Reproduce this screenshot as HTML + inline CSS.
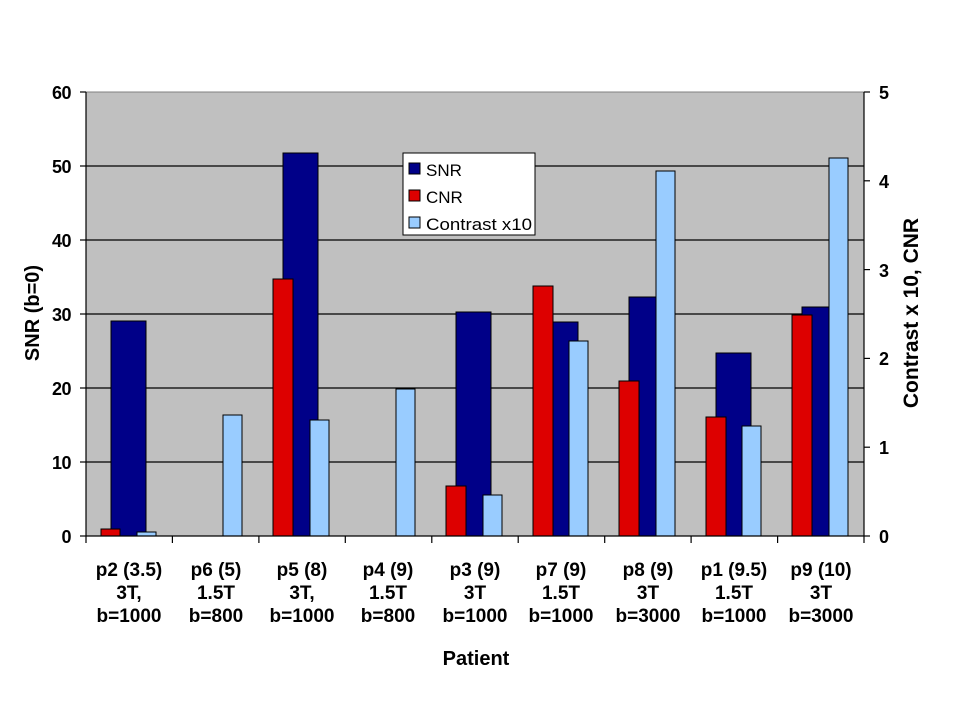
<!DOCTYPE html>
<html><head><meta charset="utf-8"><style>
html,body{margin:0;padding:0;background:#fff;}
svg{display:block;font-family:"Liberation Sans",Arial,sans-serif;font-weight:bold;}
</style></head><body>
<svg width="960" height="720" viewBox="0 0 960 720" xmlns="http://www.w3.org/2000/svg">
<rect x="86" y="92" width="778" height="444" fill="#c0c0c0" stroke="#808080" stroke-width="1"/>
<g stroke="#000" stroke-width="1.2">
<line x1="86" y1="166" x2="864" y2="166"/>
<line x1="86" y1="240" x2="864" y2="240"/>
<line x1="86" y1="314" x2="864" y2="314"/>
<line x1="86" y1="388" x2="864" y2="388"/>
<line x1="86" y1="462" x2="864" y2="462"/>
</g>
<g stroke="#000" stroke-width="1">
<!-- p2 -->
<rect x="111" y="321" width="35" height="215" fill="#000088"/>
<rect x="101" y="529" width="19" height="7" fill="#dd0000"/>
<rect x="137" y="532" width="19" height="4" fill="#99ccff"/>
<!-- p6 -->
<rect x="223" y="415" width="19" height="121" fill="#99ccff"/>
<!-- p5 -->
<rect x="283" y="153" width="35" height="383" fill="#000088"/>
<rect x="273" y="279" width="20" height="257" fill="#dd0000"/>
<rect x="310" y="420" width="19" height="116" fill="#99ccff"/>
<!-- p4 -->
<rect x="396" y="389" width="19" height="147" fill="#99ccff"/>
<!-- p3 -->
<rect x="456" y="312" width="35" height="224" fill="#000088"/>
<rect x="446" y="486" width="20" height="50" fill="#dd0000"/>
<rect x="483" y="495" width="19" height="41" fill="#99ccff"/>
<!-- p7 -->
<rect x="543" y="322" width="35" height="214" fill="#000088"/>
<rect x="533" y="286" width="20" height="250" fill="#dd0000"/>
<rect x="569" y="341" width="19" height="195" fill="#99ccff"/>
<!-- p8 -->
<rect x="629" y="297" width="35" height="239" fill="#000088"/>
<rect x="619" y="381" width="20" height="155" fill="#dd0000"/>
<rect x="656" y="171" width="19" height="365" fill="#99ccff"/>
<!-- p1 -->
<rect x="716" y="353" width="35" height="183" fill="#000088"/>
<rect x="706" y="417" width="20" height="119" fill="#dd0000"/>
<rect x="742" y="426" width="19" height="110" fill="#99ccff"/>
<!-- p9 -->
<rect x="802" y="307" width="35" height="229" fill="#000088"/>
<rect x="792" y="315" width="20" height="221" fill="#dd0000"/>
<rect x="829" y="158" width="19" height="378" fill="#99ccff"/>
</g>
<g stroke="#000" stroke-width="1.2">
<line x1="86" y1="92" x2="86" y2="536"/>
<line x1="864" y1="92" x2="864" y2="536"/>
<line x1="86" y1="536" x2="864" y2="536"/>
<line x1="80" y1="92" x2="86" y2="92"/><line x1="80" y1="166" x2="86" y2="166"/><line x1="80" y1="240" x2="86" y2="240"/><line x1="80" y1="314" x2="86" y2="314"/><line x1="80" y1="388" x2="86" y2="388"/><line x1="80" y1="462" x2="86" y2="462"/><line x1="80" y1="536" x2="86" y2="536"/>
<line x1="864" y1="92" x2="870" y2="92"/><line x1="864" y1="180.8" x2="870" y2="180.8"/><line x1="864" y1="269.6" x2="870" y2="269.6"/><line x1="864" y1="358.4" x2="870" y2="358.4"/><line x1="864" y1="447.2" x2="870" y2="447.2"/><line x1="864" y1="536" x2="870" y2="536"/>
<line x1="86" y1="536" x2="86" y2="543"/><line x1="172.4" y1="536" x2="172.4" y2="543"/><line x1="258.9" y1="536" x2="258.9" y2="543"/><line x1="345.3" y1="536" x2="345.3" y2="543"/><line x1="431.8" y1="536" x2="431.8" y2="543"/><line x1="518.2" y1="536" x2="518.2" y2="543"/><line x1="604.7" y1="536" x2="604.7" y2="543"/><line x1="691.1" y1="536" x2="691.1" y2="543"/><line x1="777.6" y1="536" x2="777.6" y2="543"/><line x1="864" y1="536" x2="864" y2="543"/>
</g>
<g font-size="18" text-anchor="end" letter-spacing="-0.5">
<text x="71" y="99">60</text><text x="71" y="173">50</text><text x="71" y="247">40</text><text x="71" y="321">30</text><text x="71" y="395">20</text><text x="71" y="469">10</text><text x="71" y="543">0</text>
</g>
<g font-size="18" text-anchor="start">
<text x="879" y="99">5</text><text x="879" y="188">4</text><text x="879" y="277">3</text><text x="879" y="365">2</text><text x="879" y="454">1</text><text x="879" y="543">0</text>
</g>
<text font-size="20" text-anchor="middle" transform="translate(39,313) rotate(-90)">SNR (b=0)</text>
<text font-size="21" text-anchor="middle" transform="translate(918,313) rotate(-90)">Contrast x 10, CNR</text>
<g font-size="19" text-anchor="middle">
<text x="129" y="576">p2 (3.5)</text><text x="129" y="599">3T,</text><text x="129" y="622">b=1000</text>
<text x="216" y="576">p6 (5)</text><text x="216" y="599">1.5T</text><text x="216" y="622">b=800</text>
<text x="302" y="576">p5 (8)</text><text x="302" y="599">3T,</text><text x="302" y="622">b=1000</text>
<text x="388" y="576">p4 (9)</text><text x="388" y="599">1.5T</text><text x="388" y="622">b=800</text>
<text x="475" y="576">p3 (9)</text><text x="475" y="599">3T</text><text x="475" y="622">b=1000</text>
<text x="561" y="576">p7 (9)</text><text x="561" y="599">1.5T</text><text x="561" y="622">b=1000</text>
<text x="648" y="576">p8 (9)</text><text x="648" y="599">3T</text><text x="648" y="622">b=3000</text>
<text x="734" y="576">p1 (9.5)</text><text x="734" y="599">1.5T</text><text x="734" y="622">b=1000</text>
<text x="821" y="576">p9 (10)</text><text x="821" y="599">3T</text><text x="821" y="622">b=3000</text>
<text x="476" y="665" font-size="20">Patient</text>
</g>
<rect x="403" y="153" width="132" height="82" fill="#fff" stroke="#000" stroke-width="1"/>
<g stroke="#000" stroke-width="1">
<rect x="409" y="163" width="11" height="11" fill="#000088"/>
<rect x="409" y="190" width="11" height="11" fill="#dd0000"/>
<rect x="409" y="217" width="11" height="11" fill="#99ccff"/>
</g>
<g font-size="17">
<text x="426" y="176" font-weight="normal">SNR</text>
<text x="426" y="203" font-weight="normal">CNR</text>
<text x="426" y="230" font-weight="normal" textLength="106" lengthAdjust="spacingAndGlyphs">Contrast x10</text>
</g>
</svg>
</body></html>
